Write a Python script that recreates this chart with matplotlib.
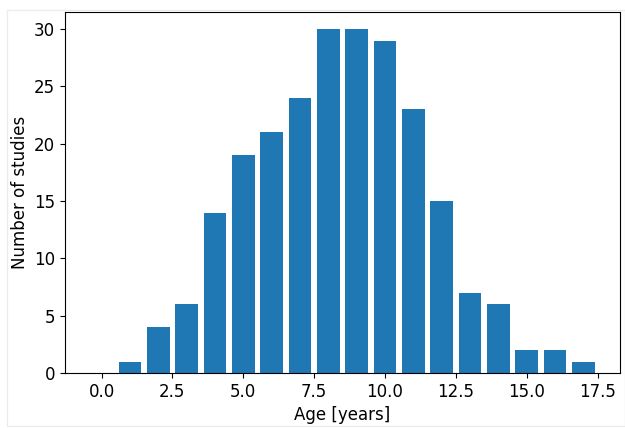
import matplotlib
matplotlib.use("Agg")
import matplotlib.pyplot as plt
from matplotlib.patches import Rectangle

ages = list(range(18))
counts = [0, 1, 4, 6, 14, 19, 21, 24, 30, 30, 29, 23, 15, 7, 6, 2, 2, 1]

fig = plt.figure(figsize=(6.25, 4.28), dpi=100)
fig.patches.append(Rectangle((7/625, 2/428), 1 - 7/625 - 0.5/625, 1 - 2/428 - 10/428,
                             transform=fig.transFigure, fill=False,
                             edgecolor='#ececec', linewidth=1))
ax = fig.add_axes([65/625, (428-373)/428, (620-65)/625, (373-12)/428])
ax.bar(ages, counts, color='#1f77b4')
ax.set_xlabel('Age [years]', fontsize=12)
ax.set_ylabel('Number of studies', fontsize=12)
ax.tick_params(labelsize=12)
fig.savefig('out.png', dpi=100)
